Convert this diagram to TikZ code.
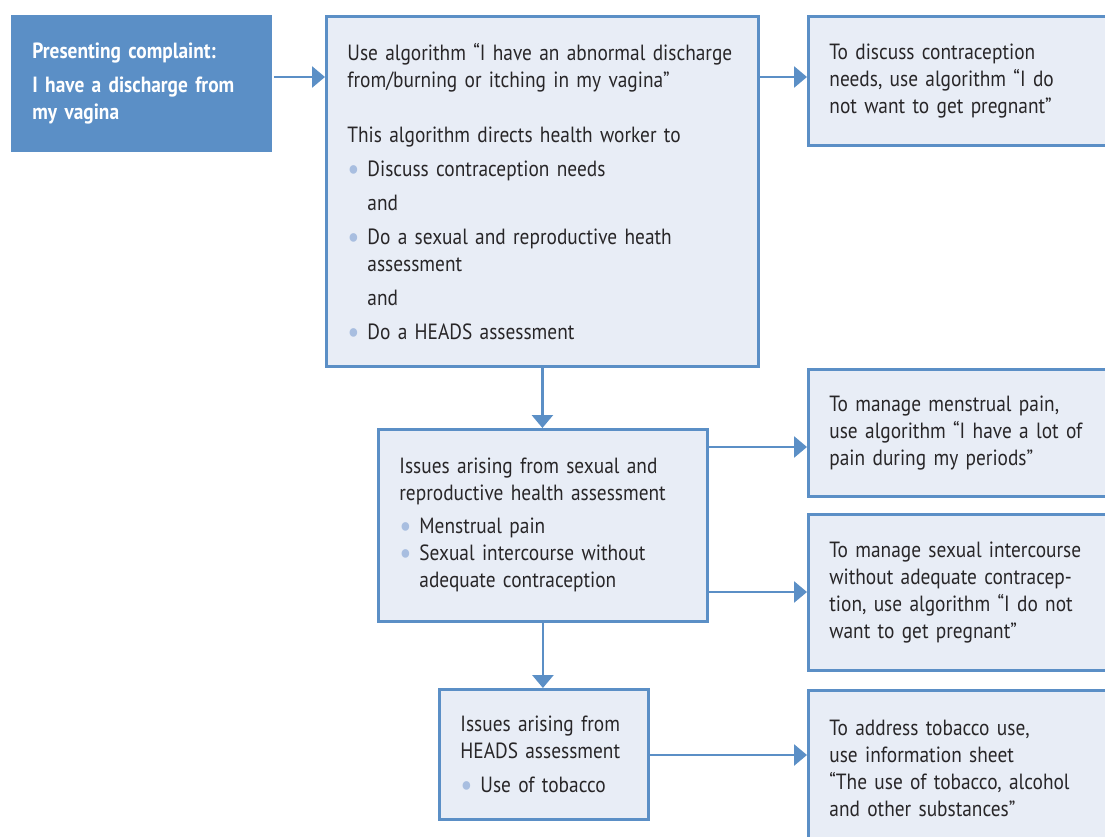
\documentclass[tikz,border=0pt]{standalone}
\usepackage{fontspec}
\setmainfont{PT Sans}[FakeStretch=0.88]
\usepackage{xcolor}
\usetikzlibrary{arrows.meta}
\definecolor{boxblue}{RGB}{91,143,198}
\definecolor{boxfill}{RGB}{232,237,246}
\definecolor{dotblue}{RGB}{168,190,224}
\definecolor{textgrey}{RGB}{40,38,40}
\newcommand{\dotitem}{\makebox[20pt][l]{\textcolor{dotblue}{\raisebox{-3pt}[0pt][0pt]{\scalebox{1.4}{\textbullet}}}}}
\newcommand{\indt}{\hspace*{20pt}}

\begin{document}
\begin{tikzpicture}[x=1pt,y=-1pt,
	box/.style={draw=boxblue,fill=boxfill,line width=2.8pt,anchor=north west,align=left,
		inner xsep=21pt,inner ysep=0pt,text=textgrey,font=\fontsize{22}{27}\selectfont},
	arr/.style={draw=boxblue,line width=2.8pt,-{Triangle[length=13pt,width=21pt]}}]
	\useasboundingbox (0,0) rectangle (1105,836);
	\clip (0,0) rectangle (1105,836);
	\node[box,fill=boxblue,draw=none,text=white,font=\bfseries\fontsize{22}{27}\selectfont,
		minimum width=261pt,minimum height=137pt,text width=219pt] (complaint) at (10,14)
		{Presenting complaint:\\[7pt]I have a discharge from\\my vagina};
	\node[box,minimum width=432pt,minimum height=350pt,text width=390pt] (algo) at (325,15)
		{Use algorithm “I have an abnormal discharge\\from/burning or itching in my vagina”\\[28pt]This algorithm directs health worker to\\[7pt]\dotitem Discuss contraception needs\\[7pt]\indt and\\[7pt]\dotitem Do a sexual and reproductive heath\\\indt assessment\\[7pt]\indt and\\[7pt]\dotitem Do a HEADS assessment};
	\node[box,minimum width=313pt,minimum height=129pt,text width=271pt] (contra) at (807,15)
		{To discuss contraception\\needs, use algorithm “I do\\not want to get pregnant”};
	\node[box,minimum width=329pt,minimum height=192pt,text width=287pt] (srh) at (377,428)
		{Issues arising from sexual and\\reproductive health assessment\\[6pt]\dotitem Menstrual pain\\\dotitem Sexual intercourse without\\\indt adequate contraception};
	\node[box,minimum width=313pt,minimum height=127pt,text width=271pt] (pain) at (807,368)
		{To manage menstrual pain,\\use algorithm “I have a lot of\\pain during my periods”};
	\node[box,minimum width=313pt,minimum height=156pt,text width=271pt] (preg) at (807,513)
		{To manage sexual intercourse\\without adequate contracep-\\tion, use algorithm “I do not\\want to get pregnant”};
	\node[box,minimum width=209pt,minimum height=130pt,text width=167pt] (heads) at (438,688)
		{Issues arising from\\HEADS assessment\\[7pt]\dotitem Use of tobacco};
	\node[box,minimum width=313pt,minimum height=156pt,text width=271pt] (tobacco) at (807,689)
		{To address tobacco use,\\use information sheet\\“The use of tobacco, alcohol\\and other substances”};
	\draw[arr] (complaint.east |- 0,77) -- (algo.west |- 0,77);
	\draw[arr] (algo.east |- 0,77) -- (contra.west |- 0,77);
	\draw[arr] (algo.south) -- (algo.south |- srh.north);
	\draw[arr] (srh.east |- 0,447) -- (pain.west |- 0,447);
	\draw[arr] (srh.east |- 0,592) -- (preg.west |- 0,592);
	\draw[arr] (srh.south) -- (srh.south |- heads.north);
	\draw[arr] (heads.east |- 0,755) -- (tobacco.west |- 0,755);
\end{tikzpicture}
\end{document}
